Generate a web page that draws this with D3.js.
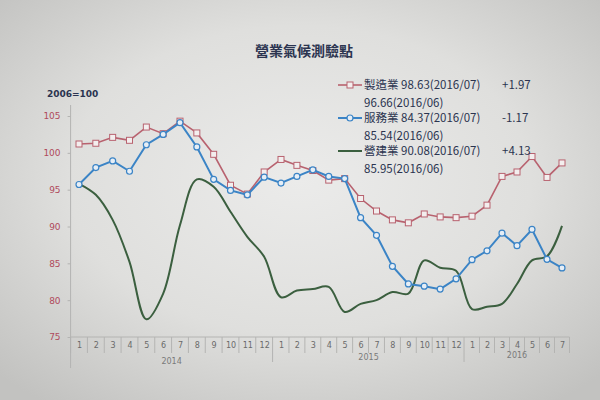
<!DOCTYPE html>
<html><head><meta charset="utf-8">
<script src="https://cdn.jsdelivr.net/npm/d3@7"></script>
<style>body{margin:0;background:#d8d8d6}svg{display:block}</style>
</head><body><svg id="c" width="600" height="400"></svg>
<script>
const title = "營業氣候測驗點";
const unitLabel = "2006=100";
const months = ["1","2","3","4","5","6","7","8","9","10","11","12","1","2","3","4","5","6","7","8","9","10","11","12","1","2","3","4","5","6","7"];
const years = ["2014","2015","2016"];
const yTicks = [75,80,85,90,95,100,105];
const seriesNames = ["製造業","服務業","營建業"];
const manufacturing = [101.2,101.3,102.1,101.7,103.5,102.6,104.3,102.7,99.8,95.6,94.4,97.4,99.1,98.3,97.6,96.3,96.5,93.8,92.1,90.9,90.5,91.7,91.3,91.2,91.4,92.9,96.8,97.4,99.5,96.66,98.63];
const services = [95.7,98.0,98.9,97.5,101.1,102.5,104.1,100.8,96.4,94.9,94.3,96.7,95.9,96.8,97.7,96.8,96.5,91.2,88.8,84.6,82.2,81.9,81.5,82.9,85.5,86.7,89.1,87.4,89.6,85.54,84.37];
const construction = [95.8,94.3,90.9,85.2,77.4,80.9,90.2,96.4,95.4,92.0,88.6,85.9,80.4,81.3,81.5,81.8,78.4,79.5,80.0,81.1,80.9,85.4,84.4,84.0,78.8,79.1,79.5,82.2,85.4,85.95,90.08];
const legendLines = [
  ["製造業  98.63(2016/07)", "+1.97", "96.66(2016/06)"],
  ["服務業  84.37(2016/07)", "-1.17", "85.54(2016/06)"],
  ["營建業  90.08(2016/07)", "+4.13", "85.95(2016/06)"]
];

const svg = d3.select("#c");
const defs = svg.append("defs");
const rg = defs.append("radialGradient").attr("id","bg").attr("cx","50%").attr("cy","45%").attr("r","70%");
rg.append("stop").attr("offset","0%").attr("stop-color","#ebebea");
rg.append("stop").attr("offset","55%").attr("stop-color","#dfdfdd");
rg.append("stop").attr("offset","100%").attr("stop-color","#c2c2c0");
svg.append("rect").attr("width",600).attr("height",400).attr("fill","url(#bg)");

const font = "'Noto Sans CJK TC','Noto Sans',sans-serif";
const ink = "#2b3450";

const x = d3.scaleLinear().domain([0,12,24,30]).range([79,281,472,562]);
const y = d3.scaleLinear().domain([75,105]).range([337,116]);

svg.append("text").attr("x",304).attr("y",56).attr("text-anchor","middle")
  .attr("font-family",font).attr("font-size",14).attr("font-weight","bold").attr("fill",ink).text(title);
svg.append("text").attr("x",47).attr("y",97)
  .attr("font-family","'DejaVu Sans',sans-serif").attr("font-size",9).attr("font-weight","bold").attr("fill",ink).text(unitLabel);

const axisCol = "#b4b4b2";
const yAxis = svg.append("g").attr("transform",`translate(${x(-0.5)},0)`)
  .call(d3.axisLeft(y).tickValues(yTicks).tickSize(3).tickPadding(7));
yAxis.select(".domain").remove();
yAxis.selectAll("line").attr("stroke",axisCol);
yAxis.selectAll("text").attr("font-family","'DejaVu Sans',sans-serif").attr("font-size",9).attr("fill","#b04a5c");
svg.append("line").attr("x1",x(-0.5)).attr("x2",x(-0.5)).attr("y1",105).attr("y2",368).attr("stroke",axisCol);

svg.append("line").attr("x1",x(-0.5)).attr("x2",x(30.5)).attr("y1",y(75)).attr("y2",y(75)).attr("stroke",axisCol);
const xAxis = svg.append("g").attr("transform",`translate(0,${y(75)})`)
  .call(d3.axisBottom(x).tickValues(d3.range(months.length)).tickFormat(i=>months[i]).tickSize(0).tickPadding(5));
xAxis.select(".domain").remove();
xAxis.selectAll("text").attr("font-family","'DejaVu Sans',sans-serif").attr("font-size",8).attr("fill","#6a6a6a");
const bounds = d3.range(months.length+1).map(i=>i-0.5);
svg.append("g").selectAll("line").data(bounds).join("line")
  .attr("x1",d=>x(d)).attr("x2",d=>x(d)).attr("y1",y(75))
  .attr("y2",d=> (d===11.5||d===23.5) ? 362 : 353)
  .attr("stroke",axisCol);
const yearCenters = [5.5,17.5,27];
svg.append("g").selectAll("text").data(years).join("text")
  .attr("x",(d,i)=>x(yearCenters[i])).attr("y",(d,i)=>[364,360,358][i]).attr("text-anchor","middle")
  .attr("font-family","'DejaVu Sans',sans-serif").attr("font-size",8).attr("fill","#7a7a7a").text(d=>d);

const colors = ["#b8626f","#3b84c6","#3b5f3f"];
const idx = d3.range(months.length);
svg.append("path").datum(idx).attr("fill","none").attr("stroke",colors[2]).attr("stroke-width",2)
  .attr("d",d3.line().x(i=>x(i)).y(i=>y(construction[i])).curve(d3.curveCatmullRom.alpha(0.5)));
svg.append("path").datum(idx).attr("fill","none").attr("stroke",colors[0]).attr("stroke-width",1.6)
  .attr("d",d3.line().x(i=>x(i)).y(i=>y(manufacturing[i])));
svg.append("g").selectAll("rect").data(idx).join("rect")
  .attr("x",i=>x(i)-3).attr("y",i=>y(manufacturing[i])-3).attr("width",6).attr("height",6)
  .attr("fill","#f3eeee").attr("stroke",colors[0]).attr("stroke-width",1);
svg.append("path").datum(idx).attr("fill","none").attr("stroke",colors[1]).attr("stroke-width",2)
  .attr("d",d3.line().x(i=>x(i)).y(i=>y(services[i])));
svg.append("g").selectAll("circle").data(idx).join("circle")
  .attr("cx",i=>x(i)).attr("cy",i=>y(services[i])).attr("r",3)
  .attr("fill","#e6eef6").attr("stroke",colors[1]).attr("stroke-width",1.2);

const legY = [85,118,151];
legendLines.forEach((l,k)=>{
  const g = svg.append("g");
  g.append("line").attr("x1",338).attr("x2",362).attr("y1",legY[k]).attr("y2",legY[k])
    .attr("stroke",colors[k]).attr("stroke-width",k===0?1.6:2);
  if(k===0) g.append("rect").attr("x",347).attr("y",legY[k]-3).attr("width",6).attr("height",6)
    .attr("fill","#f3eeee").attr("stroke",colors[0]);
  if(k===1) g.append("circle").attr("cx",350).attr("cy",legY[k]).attr("r",3)
    .attr("fill","#e6eef6").attr("stroke",colors[1]).attr("stroke-width",1.2);
  g.append("text").attr("x",364).attr("y",legY[k]+4).attr("font-family",font).attr("font-size",11.5).attr("fill",ink).text(l[0]);
  g.append("text").attr("x",502).attr("y",legY[k]+4).attr("font-family",font).attr("font-size",11.5).attr("fill",ink).text(l[1]);
  g.append("text").attr("x",364).attr("y",legY[k]+22).attr("font-family",font).attr("font-size",11.5).attr("fill",ink).text(l[2]);
});
</script></body></html>
